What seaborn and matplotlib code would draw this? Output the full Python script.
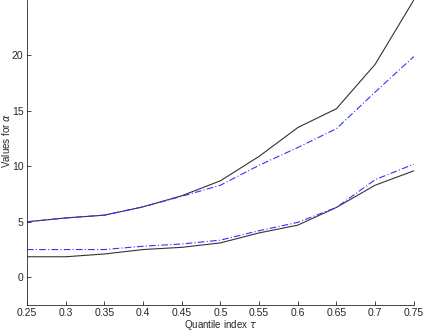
"""
Valores de alpha por índice de cuantil (dos pares de curvas).
"""

import numpy as np
import pandas as pd
import matplotlib
matplotlib.use("Agg")
import matplotlib.pyplot as plt
import seaborn as sns

# Datos
tau = [0.25, 0.30, 0.35, 0.40, 0.45, 0.50, 0.55, 0.60, 0.65, 0.70, 0.75]
upper_black = [5.0, 5.35, 5.6, 6.35, 7.35, 8.7, 10.9, 13.5, 15.2, 19.2, 25.0]
upper_blue = [5.0, 5.35, 5.6, 6.35, 7.3, 8.3, 10.1, 11.7, 13.4, 16.7, 19.9]
lower_black = [1.85, 1.85, 2.1, 2.5, 2.7, 3.1, 4.0, 4.7, 6.3, 8.3, 9.6]
lower_blue = [2.5, 2.5, 2.5, 2.8, 3.0, 3.35, 4.2, 4.95, 6.3, 8.8, 10.2]

xticks = [0.25, 0.3, 0.35, 0.4, 0.45, 0.5, 0.55, 0.6, 0.65, 0.7, 0.75]
yticks = [0, 5, 10, 15, 20]

sns.set_theme(style="ticks")
plt.rcParams["font.family"] = ["Liberation Sans", "DejaVu Sans"]
plt.rcParams["mathtext.fontset"] = "dejavusans"

axis_col = "#262626"

fig = plt.figure(figsize=(4.24, 3.32), dpi=100)
ax = fig.add_axes([0.0637, 0.0813, 0.9123, 0.9187])

df = pd.DataFrame({"tau": tau, "ub": upper_black, "uu": upper_blue,
                   "lb": lower_black, "lu": lower_blue})

sns.lineplot(data=df, x="tau", y="ub", ax=ax, color="#333333", lw=0.8)
sns.lineplot(data=df, x="tau", y="lb", ax=ax, color="#333333", lw=0.8)
sns.lineplot(data=df, x="tau", y="uu", ax=ax, color="#3333ff", lw=0.8,
             linestyle=(0, (6, 2, 1, 2)))
sns.lineplot(data=df, x="tau", y="lu", ax=ax, color="#3333ff", lw=0.8,
             linestyle=(0, (6, 2, 1, 2)))

ax.set_xlim(0.25, 0.75)
ax.set_ylim(-2.5, 25)
ax.set_xticks(xticks)
ax.set_xticklabels([f"{t:g}" for t in xticks])
ax.set_yticks(yticks)
ax.tick_params(direction="in", length=3, width=0.6, labelsize=7.5,
               colors=axis_col, pad=2.5)
for side in ["top", "right"]:
    ax.spines[side].set_visible(False)
for side in ["left", "bottom"]:
    ax.spines[side].set_linewidth(0.6)
    ax.spines[side].set_color(axis_col)

ax.set_xlabel(r"Quantile index $\tau$", fontsize=7, color=axis_col)
ax.set_ylabel(r"Values for $\alpha$", fontsize=7, color=axis_col)
ax.xaxis.set_label_coords(0.5, -0.042)
ax.yaxis.set_label_coords(-0.038, 0.54)

fig.savefig("out.png", dpi=100)
plt.close(fig)
